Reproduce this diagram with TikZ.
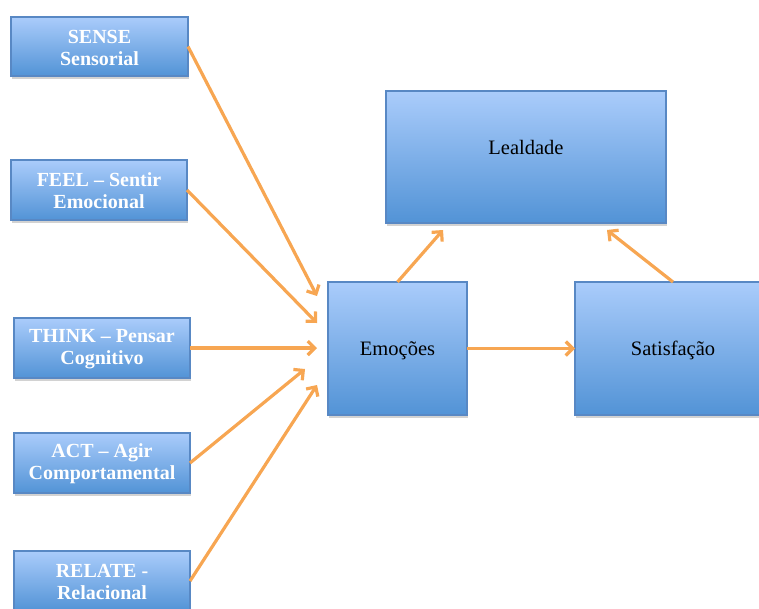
\documentclass[tikz,border=0pt]{standalone}
\usepackage{fontspec}
\setmainfont{Liberation Serif}
\usetikzlibrary{arrows.meta,shadows}

\definecolor{boxtop}{RGB}{170,204,251}
\definecolor{boxbottom}{RGB}{82,147,214}
\definecolor{boxline}{RGB}{88,136,196}
\definecolor{arrowc}{RGB}{247,166,82}

\tikzset{
  blockbox/.style={
    rectangle, draw=boxline, line width=1.2pt,
    top color=boxtop, bottom color=boxbottom,
    drop shadow={shadow xshift=1pt, shadow yshift=-2.5pt, opacity=0.25, fill=black!70},
    inner sep=0pt, outer sep=0pt
  },
  dimlabel/.style={text=white, font=\bfseries\fontsize{20}{22}\selectfont, align=center},
  mainlabel/.style={text=black, font=\fontsize{20.5}{22}\selectfont},
  flow/.style={draw=arrowc, line width=3.2pt,
    -{Straight Barb[length=7pt,width=14pt,line width=3.2pt]}}
}

\begin{document}
\begin{tikzpicture}[x=1pt, y=-1pt]
\clip (0,0) rectangle (759,608);

% experiential dimensions
\node[blockbox, minimum width=177pt, minimum height=59pt] (sense)  at (99.5,46.5) {};
\node[dimlabel] at ([yshift=-1pt]sense.center) {SENSE\\Sensorial};
\node[blockbox, minimum width=176pt, minimum height=60pt] (feel)   at (99,190) {};
\node[dimlabel] at ([yshift=-1pt]feel.center) {FEEL – Sentir\\Emocional};
\node[blockbox, minimum width=176pt, minimum height=60pt] (think)  at (102,348) {};
\node[dimlabel] at ([yshift=-1pt]think.center) {THINK – Pensar\\Cognitivo};
\node[blockbox, minimum width=176pt, minimum height=60pt] (act)    at (102,463) {};
\node[dimlabel] at ([yshift=-1pt]act.center) {ACT – Agir\\Comportamental};
\node[blockbox, minimum width=176pt, minimum height=60pt] (relate) at (102,581) {};
\node[dimlabel] at ([yshift=-1pt]relate.center) {RELATE -\\Relacional};

% outcome blocks
\node[blockbox, minimum width=139pt, minimum height=133pt] (emo)  at (397.5,348.5) {};
\node[mainlabel] at (397.5,351) {Emoções};
\node[blockbox, minimum width=280pt, minimum height=132pt] (leal) at (526,157) {};
\node[mainlabel] at (526,147.5) {Lealdade};
\node[blockbox, minimum width=196pt, minimum height=133pt] (sat)  at (673,348.5) {};
\node[mainlabel] at (673,350.5) {Satisfação};

% arrow targets
\coordinate (e1) at (317,296);
\coordinate (e2) at (317,323);
\coordinate (e3) at (317,348);
\coordinate (e4) at (305,369);
\coordinate (e5) at (317,385);
\coordinate (l1) at (443,230);
\coordinate (l2) at (607,230);

% connectors
\draw[flow] (sense.east) -- (e1);
\draw[flow] (feel.east) -- (e2);
\draw[flow] (think.east) -- (e3);
\draw[flow] (act.east) -- (e4);
\draw[flow] (relate.east) -- (e5);
\draw[flow] (emo.north) -- (l1);
\draw[flow] (sat.north) -- (l2);
\draw[flow] (emo.east) -- (sat.west);
\end{tikzpicture}
\end{document}
